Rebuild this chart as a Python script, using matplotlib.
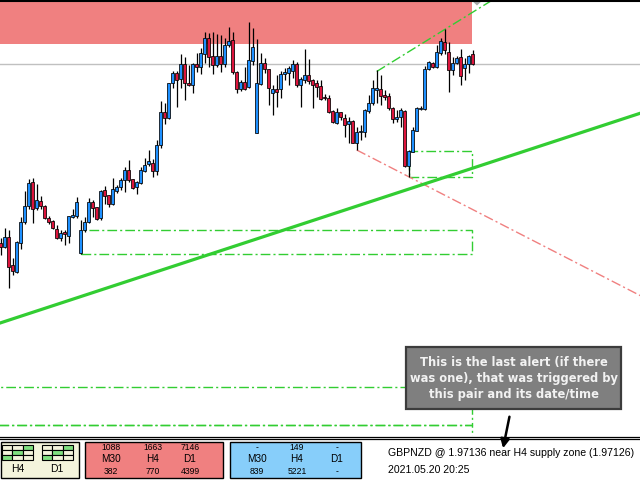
import matplotlib
matplotlib.use('Agg')
import matplotlib.pyplot as plt
from matplotlib.patches import Rectangle, Polygon
import numpy as np

# ---------------- data (GBPNZD H4 candles) ----------------
opens = [1.95347, 1.95313, 1.95413, 1.95130, 1.95063, 1.95347, 1.95557, 1.95720, 1.95960, 1.95697,
         1.95770, 1.95720, 1.95597, 1.95570, 1.95490, 1.95397, 1.95457, 1.95417, 1.95613, 1.95620,
         1.95247, 1.95480, 1.95563, 1.95760, 1.95707, 1.95603, 1.95880, 1.95830, 1.95737, 1.95870,
         1.95910, 1.95977, 1.96085, 1.95987, 1.95913, 1.95953, 1.96073, 1.96137, 1.96150, 1.96073,
         1.96333, 1.96657, 1.96597, 1.96947, 1.97047, 1.96993, 1.97140, 1.96947, 1.96927, 1.97140,
         1.97113, 1.97240, 1.97397, 1.97220, 1.97127, 1.97220, 1.97137, 1.97327, 1.97380, 1.97060,
         1.96887, 1.96963, 1.96907, 1.97173, 1.96453, 1.96940, 1.97147, 1.97087, 1.96853, 1.96887,
         1.96887, 1.97040, 1.97053, 1.97073, 1.97140, 1.96927, 1.96980, 1.97027, 1.96980, 1.96947,
         1.96920, 1.96813, 1.96797, 1.96673, 1.96547, 1.96657, 1.96597, 1.96537, 1.96570, 1.96353,
         1.96463, 1.96463, 1.96670, 1.96747, 1.96880, 1.96887, 1.96830, 1.96820, 1.96697, 1.96587,
         1.96607, 1.96670, 1.96123, 1.96263, 1.96473, 1.96687, 1.96687, 1.97090, 1.97153, 1.97107,
         1.97247, 1.97357, 1.97257, 1.97080, 1.97147, 1.97207, 1.97097, 1.97140, 1.97240]
highs = [1.95397, 1.95497, 1.95480, 1.95197, 1.95365, 1.95613, 1.95873, 1.95987, 1.95997, 1.95940,
         1.95820, 1.95730, 1.95620, 1.95580, 1.95530, 1.95480, 1.95480, 1.95625, 1.95687, 1.95807,
         1.95580, 1.95607, 1.95797, 1.95780, 1.95715, 1.95880, 1.95920, 1.95835, 1.95997, 1.95930,
         1.95997, 1.96113, 1.96180, 1.95995, 1.95970, 1.96113, 1.96197, 1.96280, 1.96187, 1.96380,
         1.96770, 1.96753, 1.96953, 1.97073, 1.97073, 1.97240, 1.97213, 1.97130, 1.97147, 1.97247,
         1.97297, 1.97457, 1.97447, 1.97457, 1.97437, 1.97430, 1.97397, 1.97507, 1.97463, 1.97067,
         1.96980, 1.97113, 1.97563, 1.97497, 1.97387, 1.97247, 1.97197, 1.97094, 1.96930, 1.97030,
         1.97070, 1.97097, 1.97120, 1.97180, 1.97163, 1.97013, 1.97290, 1.97187, 1.96987, 1.96980,
         1.96980, 1.96837, 1.96830, 1.96680, 1.96697, 1.96663, 1.96637, 1.96613, 1.96577, 1.96513,
         1.96530, 1.96687, 1.96830, 1.96980, 1.97080, 1.97030, 1.96880, 1.96847, 1.96707, 1.96680,
         1.96697, 1.96680, 1.96280, 1.96513, 1.96713, 1.96720, 1.97120, 1.97173, 1.97163, 1.97330,
         1.97397, 1.97487, 1.97363, 1.97207, 1.97220, 1.97287, 1.97197, 1.97230, 1.97280]
lows = [1.95230, 1.95297, 1.94903, 1.95030, 1.95047, 1.95287, 1.95537, 1.95687, 1.95553, 1.95680,
        1.95687, 1.95590, 1.95540, 1.95487, 1.95387, 1.95373, 1.95330, 1.95347, 1.95603, 1.95597,
        1.95240, 1.95463, 1.95553, 1.95613, 1.95580, 1.95580, 1.95740, 1.95707, 1.95730, 1.95853,
        1.95880, 1.95863, 1.95963, 1.95890, 1.95837, 1.95940, 1.96063, 1.96117, 1.96015, 1.96030,
        1.96297, 1.96537, 1.96590, 1.96897, 1.96707, 1.96897, 1.96780, 1.96920, 1.96847, 1.97063,
        1.97040, 1.97147, 1.97113, 1.97037, 1.97113, 1.97063, 1.97113, 1.97313, 1.97040, 1.96847,
        1.96873, 1.96880, 1.96900, 1.97130, 1.96447, 1.96930, 1.97047, 1.96730, 1.96630, 1.96713,
        1.96803, 1.96980, 1.96930, 1.96997, 1.96913, 1.96713, 1.96947, 1.96940, 1.96703, 1.96813,
        1.96780, 1.96780, 1.96647, 1.96547, 1.96540, 1.96580, 1.96407, 1.96347, 1.96347, 1.96280,
        1.96380, 1.96413, 1.96647, 1.96730, 1.96747, 1.96730, 1.96780, 1.96680, 1.96547, 1.96563,
        1.96513, 1.96113, 1.96013, 1.96257, 1.96470, 1.96680, 1.96680, 1.97080, 1.97097, 1.97097,
        1.97230, 1.97240, 1.96863, 1.97030, 1.97140, 1.96930, 1.96980, 1.97053, 1.97130]
closes = [1.95310, 1.95413, 1.95107, 1.95073, 1.95357, 1.95557, 1.95720, 1.95953, 1.95687, 1.95780,
          1.95723, 1.95597, 1.95557, 1.95497, 1.95397, 1.95447, 1.95437, 1.95617, 1.95630, 1.95760,
          1.95480, 1.95557, 1.95760, 1.95703, 1.95593, 1.95870, 1.95823, 1.95737, 1.95887, 1.95907,
          1.95975, 1.96080, 1.95980, 1.95905, 1.95960, 1.96080, 1.96130, 1.96170, 1.96073, 1.96330,
          1.96657, 1.96597, 1.96947, 1.97047, 1.96980, 1.97140, 1.96947, 1.96927, 1.97140, 1.97107,
          1.97247, 1.97397, 1.97213, 1.97127, 1.97220, 1.97137, 1.97330, 1.97370, 1.97063, 1.96887,
          1.96963, 1.96887, 1.97180, 1.97307, 1.96947, 1.97147, 1.97087, 1.96897, 1.96887, 1.96863,
          1.97040, 1.97060, 1.97100, 1.97140, 1.96927, 1.96990, 1.97027, 1.96973, 1.96933, 1.96913,
          1.96787, 1.96797, 1.96663, 1.96557, 1.96663, 1.96613, 1.96530, 1.96570, 1.96353, 1.96463,
          1.96473, 1.96680, 1.96747, 1.96897, 1.96897, 1.96820, 1.96807, 1.96697, 1.96587, 1.96613,
          1.96680, 1.96123, 1.96270, 1.96480, 1.96697, 1.96703, 1.97090, 1.97157, 1.97107, 1.97257,
          1.97373, 1.97280, 1.97080, 1.97153, 1.97203, 1.97023, 1.97137, 1.97220, 1.97136]

bid_price = 1.97136
supply_zone = (1.97340, 1.98500)
zone_right = 117.8
demand_zones = [(102, 1.96013, 1.96270), (20, 1.95240, 1.95480),
                (-5, 1.93530, 1.93910), (-5, 1.92500, 1.93530)]
trend_line = [(0, 1.94552), (159, 1.96636)]
red_ray = [(89, 1.96280), (102, 1.96013)]
green_ray = [(94, 1.97065), (111, 1.97485)]

tf_labels = ["M30", "H4", "D1"]
supply_top = ["1088", "1663", "7146"]
supply_bottom = ["382", "770", "4399"]
demand_top = ["-", "149", "-"]
demand_bottom = ["839", "5221", "-"]
alert_line1 = "GBPNZD @ 1.97136 near H4 supply zone (1.97126)"
alert_line2 = "2021.05.20 20:25"
note_text = "This is the last alert (if there\nwas one), that was triggered by\nthis pair and its date/time"

BLUE = '#1E90FF'
RED = '#DC143C'
LIME = '#32CD32'
DASHDOT = (0, (7, 2.2, 1.5, 2.2))

fig = plt.figure(figsize=(6.4, 4.8), dpi=100)
fig.patch.set_facecolor('white')
ax = fig.add_axes([0, 44 / 480, 1, 436 / 480])
ax.set_xlim(-0.175, 159.825)
ax.set_ylim(1.9342, 1.9778)
ax.axis('off')

# supply zone
ax.add_patch(Rectangle((-5, supply_zone[0]), zone_right + 5, supply_zone[1] - supply_zone[0],
                       facecolor='#F08080', edgecolor='none', zorder=1))
# bid line
ax.axhline(bid_price, color='#C0C0C0', lw=1.0, zorder=1.5)

# demand zones
for left, bot, top in demand_zones:
    ax.add_patch(Rectangle((left, bot), zone_right - left, top - bot, fill=False,
                           edgecolor=LIME, lw=1.0, linestyle=DASHDOT, zorder=2))

def ray(p1, p2, x_end=175):
    (x1, y1), (x2, y2) = p1, p2
    s = (y2 - y1) / (x2 - x1)
    return [x1, x_end], [y1, y1 + s * (x_end - x1)]

xs, ys = ray(*red_ray)
ax.plot(xs, ys, color='#F08080', lw=1.0, linestyle=DASHDOT, zorder=2)
xs, ys = ray(*green_ray)
ax.plot(xs, ys, color=LIME, lw=1.0, linestyle=DASHDOT, zorder=2)
ax.axline(trend_line[0], trend_line[1], color=LIME, lw=2.3, zorder=2.5)

# candles
for i, (o, h, l, c) in enumerate(zip(opens, highs, lows, closes)):
    col = BLUE if c >= o else RED
    ax.vlines(i, l, h, color='black', lw=0.9, zorder=3)
    bottom = min(o, c)
    height = max(abs(c - o), 0.0001)
    ax.add_patch(Rectangle((i - 0.42, bottom), 0.84, height, facecolor=col,
                           edgecolor='black', lw=0.55, zorder=4))

# ---------------- overlay (panel, notes) ----------------
ov = fig.add_axes([0, 0, 1, 1], zorder=10)
ov.set_xlim(0, 640)
ov.set_ylim(480, 0)
ov.axis('off')
ov.patch.set_alpha(0)

ov.plot([0, 640], [0.6, 0.6], color='black', lw=1.5)
ov.plot([0, 640], [436.5, 436.5], color='black', lw=0.9)
ov.plot([0, 640], [439.3, 439.3], color='black', lw=0.9)
ov.add_patch(Polygon([(472, 0.8), (482, 0.8), (477, 5.5)], closed=True,
                     facecolor='#A8A8A8', edgecolor='none'))

# note box
ov.add_patch(Rectangle((406, 347), 215, 62, facecolor='#7F7F7F', edgecolor='#3C3C3C', lw=1.6))
ov.text(513.5, 378.5, note_text, ha='center', va='center', color='#F2F2F2',
        fontsize=8.3, fontweight='bold', family='DejaVu Sans', linespacing=1.32)
ov.annotate('', xy=(502.5, 451), xytext=(510, 414),
            arrowprops=dict(arrowstyle='-|>', color='black', lw=1.8, mutation_scale=13))

FONT = 'Liberation Sans'
# box 1 with grids
ov.add_patch(Rectangle((0.5, 442), 78, 35.5, facecolor='#F4F4DC', edgecolor='black', lw=1.0))
for gx0, lab in [(1.5, "H4"), (41.5, "D1")]:
    cw, ch = 10.5, 5.0
    for r in range(3):
        for cidx in range(3):
            green = (r + cidx == 2)
            ov.add_patch(Rectangle((gx0 + cidx * cw, 445 + r * ch), cw, ch,
                                   facecolor='#7FE07F' if green else '#F4F4DC',
                                   edgecolor='black', lw=0.8))
    ov.text(gx0 + 1.5 * cw, 469.5, lab, ha='center', va='center', fontsize=7.5, family=FONT)

# box 2 (supply)
ov.add_patch(Rectangle((85, 442), 138, 35.5, facecolor='#F08080', edgecolor='black', lw=1.0))
for cx, t1, tf, t3 in zip([111, 152.5, 190], supply_top, tf_labels, supply_bottom):
    ov.text(cx, 447.5, t1, ha='center', va='center', fontsize=6.2, family=FONT)
    ov.text(cx, 459.5, tf, ha='center', va='center', fontsize=7.2, family=FONT)
    ov.text(cx, 471.5, t3, ha='center', va='center', fontsize=6.2, family=FONT)

# box 3 (demand)
ov.add_patch(Rectangle((229.5, 442), 131, 35.5, facecolor='#87CEFA', edgecolor='black', lw=1.0))
for cx, t1, tf, t3 in zip([257, 297, 337], demand_top, tf_labels, demand_bottom):
    ov.text(cx, 447.5, t1, ha='center', va='center', fontsize=6.2, family=FONT)
    ov.text(cx, 459.5, tf, ha='center', va='center', fontsize=7.2, family=FONT)
    ov.text(cx, 471.5, t3, ha='center', va='center', fontsize=6.2, family=FONT)

ov.text(387.5, 453.5, alert_line1, ha='left', va='center', fontsize=7.6, family=FONT)
ov.text(387.5, 470, alert_line2, ha='left', va='center', fontsize=7.6, family=FONT)

fig.savefig('out.png', dpi=100)
